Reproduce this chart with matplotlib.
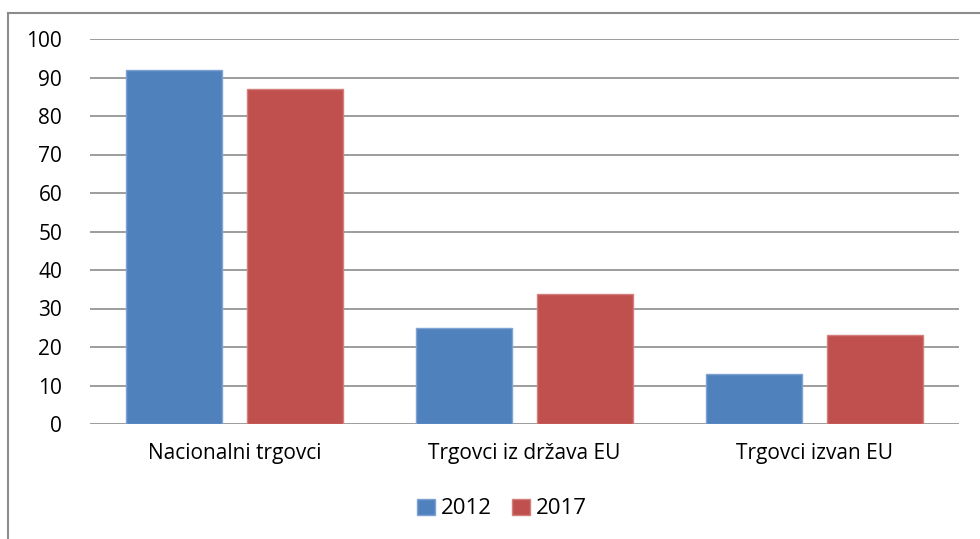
import matplotlib.pyplot as plt
import numpy as np

categories = ['Nacionalni trgovci', 'Trgovci iz država EU', 'Trgovci izvan EU']
years = ['2012', '2017']
vals_2012 = [92, 25, 13]
vals_2017 = [87, 33.7, 23]
colors = {'2012': '#4F81BD', '2017': '#C0504D'}
edges = {'2012': '#7EA3D3', '2017': '#D47F7D'}

plt.rcParams['font.family'] = ['Open Sans', 'DejaVu Sans']
fs = 15

fig = plt.figure(figsize=(9.8, 5.39), dpi=100)
ax = fig.add_axes([90 / 980, 1 - 424 / 539, (959 - 90) / 980, (424 - 39) / 539])

x = np.arange(len(categories))
w = 0.331
off = (w + 0.086) / 2
ax.bar(x - off, vals_2012, w, color=colors['2012'], edgecolor=edges['2012'], linewidth=1, zorder=3, label='2012')
ax.bar(x + off, vals_2017, w, color=colors['2017'], edgecolor=edges['2017'], linewidth=1, zorder=3, label='2017')

ax.set_xlim(-0.5, len(categories) - 0.5)
ax.set_ylim(0, 100)
ax.set_yticks(range(0, 101, 10))
ax.yaxis.grid(True, color='#8c8c8c', linewidth=1.2, zorder=0)
ax.set_axisbelow(True)
for s in ['top', 'right', 'left', 'bottom']:
    ax.spines[s].set_visible(False)
ax.tick_params(axis='y', length=0, pad=20, labelsize=fs)
ax.tick_params(axis='x', length=0, pad=14, labelsize=fs)
ax.set_xticks(x)
ax.set_xticklabels(categories)

fig.legend(loc='center', bbox_to_anchor=(502 / 980, 1 - 509 / 539), ncol=2, frameon=False,
           fontsize=fs + 1, handlelength=0.82, handleheight=0.75, handletextpad=0.25, columnspacing=0.9)

# outer chart frame: only top and left edges are visible in the crop
fig.add_artist(plt.Line2D([8 / 980, 8 / 980], [0, 1 - 13 / 539], transform=fig.transFigure,
                          color='#8c8c8c', linewidth=1.5))
fig.add_artist(plt.Line2D([8 / 980, 1], [1 - 13 / 539, 1 - 13 / 539], transform=fig.transFigure,
                          color='#8c8c8c', linewidth=1.5))

fig.savefig('out.png', dpi=100)
